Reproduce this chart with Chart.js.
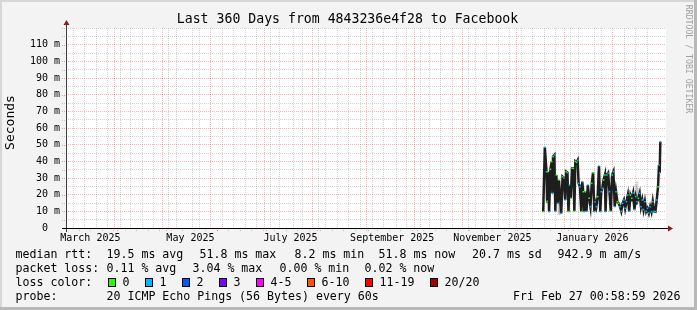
<!DOCTYPE html>
<html>
<head>
<meta charset="utf-8">
<script src="https://cdn.jsdelivr.net/npm/chart.js@4/dist/chart.umd.min.js"></script>
<style>
html,body{margin:0;padding:0;background:#f3f3f3;}
canvas{display:block;}
</style>
</head>
<body>
<canvas id="c" width="697" height="310"></canvas>
<script>
// ---- data (days since start of the 360-day window, value in milliseconds) ----
const titleText = "Last 360 Days from 4843236e4f28 to Facebook";
const yAxisTitle = "Seconds";
const watermark = "RRDTOOL / TOBI OETIKER";

const medianDays = [288.0,289.0,290.0,290.4,290.8,291.6,292.4,293.2,293.6,294.0,294.8,295.4,296.0,296.8,297.6,299.0,299.8,300.6,301.4,302.0,302.8,303.4,304.0,304.8,305.6,306.4,307.0,307.6,308.4,309.0,309.6,310.4,311.2,311.8,312.4,313.0,313.6,314.4,315.2,316.0,316.8,317.6,318.4,319.2,319.6,320.4,321.2,322.0,322.8,323.4,324.0,324.8,325.6,326.0,326.8,327.6,328.4,329.2,330.0,330.8,331.6,332.4,333.2,334.0,334.8,335.6,336.4,337.2,338.0,338.8,339.6,340.4,341.2,342.0,342.8,343.6,344.4,345.2,346.0,346.8,347.6,348.4,349.2,350.0,350.8,351.6,352.4,353.2,354.0,354.8,355.6,356.4,357.2,358.0,358.6,359.0,359.4];
const medianMs   = [9.8,48.4,33.8,16.0,33.8,9.8,35.2,39.8,20.8,42.8,43.8,10.0,31.8,14.8,28.8,8.8,30.8,30.0,16.8,33.8,33.2,9.8,25.8,17.8,35.8,35.8,10.0,40.0,39.4,40.6,26.8,24.8,9.8,27.8,21.8,9.8,21.8,10.0,25.8,17.8,12.8,26.8,33.2,9.8,15.8,12.8,18.8,37.2,9.8,21.8,23.8,28.8,31.8,9.8,31.8,33.0,21.8,10.0,31.8,33.8,12.8,21.8,15.8,14.8,12.8,10.0,14.8,16.8,11.8,15.8,19.8,10.0,19.8,17.8,21.0,11.0,18.8,15.8,17.8,20.8,12.8,16.8,11.0,15.8,10.0,11.8,9.0,12.8,9.8,15.8,10.0,9.8,16.8,24.8,37.8,33.0,51.8];
const medianLoss = [0,1,1,0,0,1,0,0,1,0,1,1,0,1,0,1,0,1,1,0,1,0,1,0,0,0,0,0,0,1,1,1,0,1,0,1,0,1,1,0,1,0,0,1,1,1,0,1,1,1,1,0,0,1,1,1,1,0,0,1,1,1,0,0,1,1,1,1,1,1,1,1,0,0,1,1,1,1,0,1,1,1,1,1,1,1,1,1,1,1,1,1,1,0,1,1,1];

const smokeDays = [297.4,298.0,298.6,344.6,345.2,345.8];
const smokeLow  = [8.0,8.0,9.0,14.0,15.0,16.0];
const smokeHigh = [17.0,16.0,15.0,26.0,28.0,24.0];

// axis ticks
const yTickValues = [0,5,10,15,20,25,30,35,40,45,50,55,60,65,70,75,80,85,90,95,100,105,110,115,120];
const yLabelValues = [0,10,20,30,40,50,60,70,80,90,100,110];
const monthStartDays = [28,58,89,119,150,181,211,242,272,303,334];
const weekDays = [5,12,19,26,33,40,47,54,61,68,75,82,89,96,103,110,117,124,131,138,145,152,159,166,173,180,187,194,201,208,215,222,229,236,243,250,257,264,271,278,285,292,299,306,313,320,327,334,341,348,355];
const monthLabelDays = [12,73,134,196,257,318];
const monthLabelNames = ["March 2025","May 2025","July 2025","September 2025","November 2025","January 2026"];

// legend
const lossLabels = ["0","1","2","3","4-5","6-10","11-19","20/20"];
const lossColors = ["#26ff00","#00b8ff","#0059ff","#7e00ff","#ff00ff","#ff5500","#ff0000","#a10000"];
const legendRtt  = ["median rtt:","19.5 ms avg","51.8 ms max","8.2 ms min","51.8 ms now","20.7 ms sd","942.9 m am/s"];
const legendLoss = ["packet loss:","0.11 % avg","3.04 % max","0.00 % min","0.02 % now"];
const legendProbe = ["probe:","20 ICMP Echo Pings (56 Bytes) every 60s"];
const stampText = "Fri Feb 27 00:58:59 2026";

// ---- layout (styles / positions) ----
const MONO = '"DejaVu Sans Mono", "Liberation Mono", monospace';
const rttX = [16,107,200,295,379,472.5,558];
const lossX = [16,107,193,280,365];
const probeX = [16,107];
const boxX = [108,145,182,219,256,307,365,430];
const boxLabelX = [123,160,197,234,271,322,380,445];

const xTicksAll = [...new Set([...weekDays, ...monthStartDays, ...monthLabelDays])].sort((a,b)=>a-b);
const tv = c => (c && c.tick) ? c.tick.value : null;

const rrdPlugin = {
  id: 'rrd',
  beforeDraw(chart) {
    const {ctx, chartArea: a, width, height} = chart;
    ctx.save();
    ctx.fillStyle = '#f3f3f3';
    ctx.fillRect(0, 0, width, height);
    ctx.fillStyle = '#d6d6d6';
    ctx.fillRect(0, 0, width, 2);
    ctx.fillRect(0, 0, 2, height);
    ctx.fillStyle = '#b8b8b8';
    ctx.fillRect(width - 3, 0, 3, height);
    ctx.fillRect(0, height - 3, width, 3);
    ctx.fillStyle = '#ffffff';
    ctx.fillRect(a.left, a.top, a.right - a.left, a.bottom - a.top);
    ctx.restore();
  },
  afterDatasetsDraw(chart) {
    const {ctx, chartArea: a, scales} = chart;
    const xs = scales.x, ys = scales.y;
    ctx.save();
    ctx.lineWidth = 1;
    ctx.setLineDash([1, 1]);
    yTickValues.forEach(v => {
      const y = Math.round(ys.getPixelForValue(v)) + 0.5;
      ctx.strokeStyle = (yLabelValues.includes(v) && v > 0) ? 'rgba(255,0,0,0.4)' : 'rgba(120,120,120,0.4)';
      ctx.beginPath(); ctx.moveTo(a.left - 4, y); ctx.lineTo(a.left, y); ctx.stroke();
    });
    [...weekDays, ...monthStartDays].forEach(d => {
      const x = Math.round(xs.getPixelForValue(d)) + 0.5;
      ctx.strokeStyle = monthStartDays.includes(d) ? 'rgba(255,0,0,0.4)' : 'rgba(120,120,120,0.4)';
      ctx.beginPath(); ctx.moveTo(x, a.bottom); ctx.lineTo(x, a.bottom + 3); ctx.stroke();
    });
    ctx.setLineDash([]);
    const x0 = Math.round(a.left) + 0.5;
    const yb = Math.round(a.bottom) + 0.5;
    ctx.strokeStyle = '#404040';
    ctx.beginPath(); ctx.moveTo(x0, a.bottom + 4); ctx.lineTo(x0, a.top - 4); ctx.stroke();
    ctx.strokeStyle = '#000000';
    ctx.beginPath(); ctx.moveTo(a.left - 4, yb); ctx.lineTo(a.right + 2, yb); ctx.stroke();
    ctx.fillStyle = '#8b1a1a';
    ctx.beginPath();
    ctx.moveTo(x0 - 3, a.top - 3); ctx.lineTo(x0 + 3, a.top - 3); ctx.lineTo(x0, a.top - 8); ctx.closePath(); ctx.fill();
    ctx.beginPath();
    ctx.moveTo(a.right + 2, yb - 3); ctx.lineTo(a.right + 2, yb + 3); ctx.lineTo(a.right + 7, yb); ctx.closePath(); ctx.fill();
    ctx.restore();
  },
  afterDraw(chart) {
    const {ctx} = chart;
    ctx.save();
    ctx.fillStyle = '#000';
    ctx.font = '13.2px ' + MONO;
    ctx.textAlign = 'center';
    ctx.textBaseline = 'middle';
    ctx.fillText(titleText, 347.5, 19.5);
    ctx.save();
    ctx.translate(10.5, 122.5);
    ctx.rotate(-Math.PI / 2);
    ctx.font = '13px ' + MONO;
    ctx.fillText(yAxisTitle, 0, 0);
    ctx.restore();
    ctx.save();
    ctx.translate(688.5, 59);
    ctx.rotate(Math.PI / 2);
    ctx.font = '8.2px ' + MONO;
    ctx.fillStyle = '#a0a0a0';
    ctx.fillText(watermark, 0, 0);
    ctx.restore();
    ctx.font = '11.6px ' + MONO;
    ctx.textAlign = 'left';
    ctx.textBaseline = 'middle';
    legendRtt.forEach((t, i) => ctx.fillText(t, rttX[i] - 0.5, 254.5));
    legendLoss.forEach((t, i) => ctx.fillText(t, lossX[i] - 0.5, 268.5));
    ctx.fillText("loss color:", 15.5, 282.5);
    lossLabels.forEach((t, i) => {
      ctx.fillStyle = lossColors[i];
      ctx.fillRect(boxX[i], 278, 8, 9);
      ctx.strokeStyle = '#000';
      ctx.lineWidth = 1;
      ctx.strokeRect(boxX[i] + 0.5, 278.5, 7, 8);
      ctx.fillStyle = '#000';
      ctx.fillText(t, boxLabelX[i] - 0.5, 282.5);
    });
    legendProbe.forEach((t, i) => ctx.fillText(t, probeX[i] - 0.5, 296.5));
    ctx.textAlign = 'right';
    ctx.fillText(stampText, 680.5, 296.5);
    ctx.restore();
  }
};

new Chart(document.getElementById('c'), {
  data: {
    datasets: [
      {
        type: 'bar',
        label: 'smoke',
        data: smokeDays.map((d, i) => ({x: d, y: [smokeLow[i], smokeHigh[i]]})),
        backgroundColor: 'rgba(0,0,0,0.12)',
        borderWidth: 0,
        barThickness: 2,
        order: 2
      },
      {
        type: 'line',
        label: 'median rtt',
        data: medianDays.map((d, i) => ({x: d, y: medianMs[i]})),
        borderColor: '#1e1e1e',
        borderWidth: 2.5,
        tension: 0,
        pointStyle: 'rect',
        pointRadius: 1.1,
        pointBorderWidth: 0,
        pointBackgroundColor: medianLoss.map(l => lossColors[l]),
        order: 1
      }
    ]
  },
  options: {
    responsive: false,
    animation: false,
    devicePixelRatio: 1,
    layout: {padding: {left: 0, top: 28, right: 31, bottom: 0}},
    plugins: {legend: {display: false}, tooltip: {enabled: false}, title: {display: false}},
    scales: {
      x: {
        type: 'linear',
        min: 0, max: 360,
        afterBuildTicks: s => { s.ticks = xTicksAll.map(v => ({value: v})); },
        afterFit: s => { s.height = 82; },
        grid: {
          drawTicks: false,
          lineWidth: c => { const v = tv(c); return (v !== null && monthLabelDays.includes(v) && !weekDays.includes(v) && !monthStartDays.includes(v)) ? 0 : 1; },
          color: c => { const v = tv(c); if (v === null) return 'rgba(0,0,0,0)';
                        return monthStartDays.includes(v) ? 'rgba(255,0,0,0.3)' :
                               (weekDays.includes(v) ? 'rgba(110,110,110,0.3)' : 'rgba(0,0,0,0)'); }
        },
        border: {display: false, dash: [1, 1]},
        ticks: {
          autoSkip: false, maxRotation: 0, minRotation: 0, padding: 4,
          color: '#000',
          font: {family: MONO, size: 10},
          callback: v => { const i = monthLabelDays.indexOf(v); return i >= 0 ? monthLabelNames[i] : ''; }
        }
      },
      y: {
        type: 'linear',
        min: 0, max: 120,
        afterBuildTicks: s => { s.ticks = yTickValues.map(v => ({value: v})); },
        afterFit: s => { s.width = 66; },
        grid: {
          drawTicks: false,
          color: c => { const v = tv(c); if (v === null) return 'rgba(0,0,0,0)';
                        return (yLabelValues.includes(v) && v > 0) ? 'rgba(255,0,0,0.3)' : 'rgba(110,110,110,0.3)'; }
        },
        border: {display: false, dash: [1, 1]},
        ticks: {
          autoSkip: false, padding: 6,
          color: '#000',
          font: {family: MONO, size: 10},
          callback: v => yLabelValues.includes(v) ? (v === 0 ? '0  ' : v + ' m') : ''
        }
      }
    }
  },
  plugins: [rrdPlugin]
});
</script>
</body>
</html>
